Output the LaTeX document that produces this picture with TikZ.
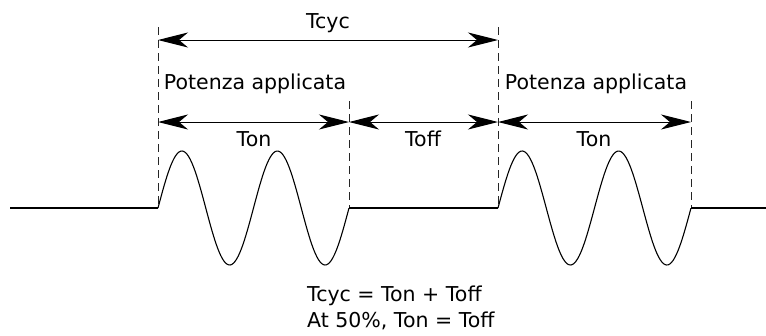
\documentclass[tikz,border=0pt]{standalone}
\usepackage{fontspec}
\setmainfont{DejaVu Sans}
\usetikzlibrary{arrows.meta}
\begin{document}
\begin{tikzpicture}[x=1pt,y=-1pt,
  dim/.style={{Stealth[length=30pt,width=15pt,inset=9pt]}-{Stealth[length=30pt,width=15pt,inset=9pt]}, line width=1pt},
  guide/.style={dashed, dash pattern=on 8pt off 5pt, line width=0.7pt, gray!30!black},
  wave/.style={line width=1.1pt},
  lbl/.style={font=\fontsize{20.5}{26}\selectfont, inner sep=0pt}]
\useasboundingbox (0,0) rectangle (766,335);
% guide coordinates
\coordinate (a0) at (158,27);  \coordinate (a1) at (158,208);
\coordinate (b0) at (349,101); \coordinate (b1) at (349,208);
\coordinate (c0) at (498,27);  \coordinate (c1) at (498,208);
\coordinate (d0) at (691,101); \coordinate (d1) at (691,208);
\coordinate (L) at (10,208); \coordinate (R) at (766,208);
\draw[guide] (a0) -- (a1);
\draw[guide] (b0) -- (b1);
\draw[guide] (c0) -- (c1);
\draw[guide] (d0) -- (d1);
% arrows
\coordinate (t1) at (158,40); \coordinate (t2) at (498,40);
\coordinate (o1) at (158,122); \coordinate (o2) at (349,122);
\coordinate (o3) at (498,122); \coordinate (o4) at (691,122);
\draw[dim] (t1) -- (t2);
\draw[dim] (o1) -- (o2);
\draw[dim] (o2) -- (o3);
\draw[dim] (o3) -- (o4);
% labels
\node[lbl] (tcyc) at (328,23) {Tcyc};
\node[lbl] (pa1) at (255,84) {Potenza applicata};
\node[lbl] (pa2) at (596,84) {Potenza applicata};
\node[lbl] (ton1) at (254,139) {Ton};
\node[lbl] (toff) at (423,139) {Toff};
\node[lbl] (ton2) at (594,139) {Ton};
\node[lbl, anchor=base west] (eq1) at (307,301) {Tcyc = Ton + Toff};
\node[lbl, anchor=base west] (eq2) at (307,327) {At 50\%, Ton = Toff};
% signal
\draw[wave] (L) -- (a1);
\draw[wave] plot[domain=0:2, samples=120, smooth] ({158+\x*95.5},{208-57*sin(\x*360)});
\draw[wave] (b1) -- (c1);
\draw[wave] plot[domain=0:2, samples=120, smooth] ({498+\x*96.5},{208-57*sin(\x*360)});
\draw[wave] (d1) -- (R);
\end{tikzpicture}
\end{document}
